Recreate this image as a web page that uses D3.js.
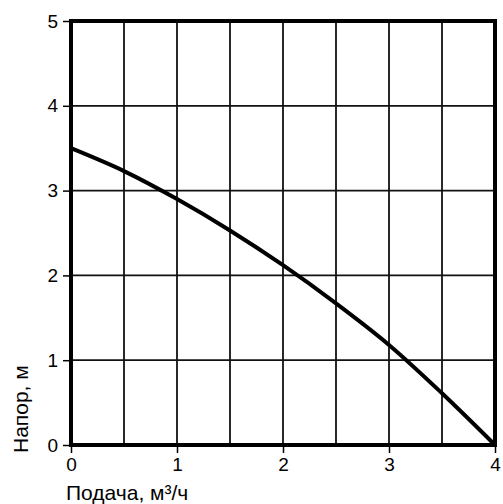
<!DOCTYPE html>
<html>
<head>
<meta charset="utf-8">
<script src="https://cdn.jsdelivr.net/npm/d3@7"></script>
<style>
  body { margin: 0; background: #fff; }
  text { font-family: "Liberation Sans", Arial, sans-serif; fill: #000; }
</style>
</head>
<body>
<svg id="chart" width="503" height="504"></svg>
<script>
// flow, m3/h and head, m
const flow = [0, 0.5, 1, 1.5, 2, 2.5, 3, 3.5, 4];
const head = [3.5, 3.23, 2.9, 2.53, 2.12, 1.67, 1.18, 0.61, 0];
const xTicks = [0, 1, 2, 3, 4];
const yTicks = [0, 1, 2, 3, 4, 5];
const xGrid = [0.5, 1, 1.5, 2, 2.5, 3, 3.5];
const yGrid = [1, 2, 3, 4];

const svg = d3.select("#chart");
const plotLeft = 71, plotRight = 495, plotTop = 21, plotBottom = 445;

const x = d3.scaleLinear().domain([0, 4]).range([plotLeft, plotRight]);
const y = d3.scaleLinear().domain([0, 5]).range([plotBottom, plotTop]);

// grid
svg.append("g")
  .selectAll("line")
  .data(xGrid)
  .join("line")
  .attr("x1", (d) => x(d))
  .attr("x2", (d) => x(d))
  .attr("y1", plotTop)
  .attr("y2", plotBottom)
  .attr("stroke", "#111")
  .attr("stroke-width", 1.8);

svg.append("g")
  .selectAll("line")
  .data(yGrid)
  .join("line")
  .attr("x1", plotLeft)
  .attr("x2", plotRight)
  .attr("y1", (d) => y(d))
  .attr("y2", (d) => y(d))
  .attr("stroke", "#111")
  .attr("stroke-width", 1.8);

// frame
svg.append("rect")
  .attr("x", plotLeft)
  .attr("y", plotTop)
  .attr("width", plotRight - plotLeft)
  .attr("height", plotBottom - plotTop)
  .attr("fill", "none")
  .attr("stroke", "#000")
  .attr("stroke-width", 4);

// axes
const xAxis = svg.append("g")
  .attr("transform", `translate(0,${plotBottom})`)
  .call(d3.axisBottom(x).tickValues(xTicks).tickFormat(d3.format("d")).tickSize(8).tickPadding(5));
const yAxis = svg.append("g")
  .attr("transform", `translate(${plotLeft},0)`)
  .call(d3.axisLeft(y).tickValues(yTicks).tickFormat(d3.format("d")).tickSize(8).tickPadding(5));

[xAxis, yAxis].forEach((g) => {
  g.select(".domain").remove();
  g.selectAll(".tick line").attr("stroke", "#000").attr("stroke-width", 1.5);
  g.selectAll(".tick text").style("font-size", "19px").attr("fill", "#000");
});

// curve
const line = d3.line()
  .x((d, i) => x(flow[i]))
  .y((d) => y(d))
  .curve(d3.curveCatmullRom.alpha(0.5));

svg.append("path")
  .datum(head)
  .attr("d", line)
  .attr("fill", "none")
  .attr("stroke", "#000")
  .attr("stroke-width", 4);

// labels
svg.append("text")
  .attr("x", 66)
  .attr("y", 500)
  .style("font-size", "21px")
  .text("Подача, м³/ч");

svg.append("text")
  .attr("transform", "translate(28,453) rotate(-90)")
  .style("font-size", "21px")
  .text("Напор, м");
</script>
</body>
</html>
